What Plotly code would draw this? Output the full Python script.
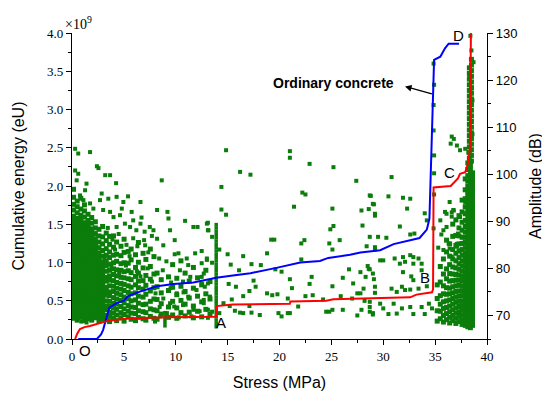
import plotly.graph_objects as go

# ---------------- cumulative energy curves (units of 1e9 eU) ----------------
blue_stress = [0.6, 2.4, 2.8, 3.0, 3.2, 3.34, 3.6, 4.3, 5.0, 5.4, 6.55, 8.2, 9.8, 11.7, 13.3, 13.9,
               15.5, 17.2, 19.7, 22.0, 23.9, 24.7, 26.8, 27.8, 29.7, 31.0, 33.5, 34.2, 34.45, 34.6,
               34.8, 34.9, 35.5, 35.95, 36.3, 37.3]
blue_energy = [0, 0, 0.06, 0.12, 0.22, 0.29, 0.41, 0.47, 0.5, 0.56, 0.62, 0.69, 0.72, 0.74, 0.78, 0.80,
               0.83, 0.86, 0.93, 1.0, 1.02, 1.06, 1.10, 1.13, 1.16, 1.24, 1.32, 1.43, 1.57, 2.36,
               3.2, 3.65, 3.69, 3.8, 3.86, 3.86]

red_stress = [0.3, 0.5, 0.77, 1.2, 1.73, 2.7, 3.5, 5.6, 9.4, 13.9, 13.95, 15.5, 21.0, 21.05, 24.5,
              25.2, 29.7, 32.6, 33.2, 34.7, 34.8, 34.85, 36.5, 36.75, 37.2, 37.4, 37.9, 38.2, 38.35,
              38.4, 38.45]
red_energy = [0, 0.07, 0.13, 0.155, 0.17, 0.21, 0.24, 0.27, 0.285, 0.29, 0.43, 0.45, 0.46, 0.49, 0.5,
              0.52, 0.535, 0.545, 0.58, 0.61, 0.65, 1.98, 2.0, 2.04, 2.1, 2.16, 2.18, 2.31, 2.49,
              3.19, 4.0]

# ---------------- AE amplitude hits (dB): dense columns ----------------
cloud_stress = [0.15, 0.5, 0.85, 1.2, 1.55, 1.9, 2.25, 2.6, 2.95,
                3.3, 3.62, 4.0, 4.3, 4.72, 5.02, 5.42, 5.7, 6.12, 6.4, 6.85, 7.12, 7.55, 7.9,
                8.2, 8.6, 9.3, 9.7, 10.1, 10.5, 10.9, 11.3, 11.7, 12.1, 12.5, 12.9, 13.3,
                35.2, 35.5, 35.8, 36.1, 36.4, 36.7, 37.0, 37.3, 37.6, 37.9, 38.15, 38.4, 38.6,
                38.3, 38.5]
cloud_amp = [
    [69.4, 70.2, 71.1, 71.8, 72.7, 73.4, 74.2, 75.0, 75.9, 76.6, 77.5, 78.2, 79.0, 79.9, 80.6, 81.5,
     82.2, 83.0, 83.9, 84.6, 85.4, 86.3, 87.0, 87.8, 88.7, 89.4, 90.3, 91.1, 92.4, 93.6, 95.1, 96.8],
    [69.0, 69.8, 70.7, 71.5, 72.2, 73.1, 73.8, 74.6, 75.5, 76.2, 77.0, 77.9, 78.6, 79.5, 80.2, 81.0,
     81.9, 82.6, 83.4, 84.3, 85.0, 85.8, 86.7, 87.4, 88.2, 89.1, 89.8, 90.6, 91.8, 93.1, 94.3],
    [69.6, 70.4, 71.2, 72.0, 72.9, 73.6, 74.4, 75.2, 76.0, 76.9, 77.6, 78.4, 79.2, 80.0, 80.8, 81.6,
     82.4, 83.2, 84.0, 84.9, 85.6, 86.4, 87.2, 88.1, 88.8, 89.6, 90.5, 91.3, 92.6, 94.9],
    [68.9, 69.7, 70.5, 71.4, 72.1, 72.9, 73.8, 74.5, 75.3, 76.2, 76.9, 77.7, 78.6, 79.3, 80.1, 81.0,
     81.7, 82.5, 83.4, 84.1, 84.9, 85.8, 86.5, 87.3, 88.2, 88.9, 89.7, 90.9, 92.2, 93.5],
    [69.3, 70.1, 70.9, 71.7, 72.6, 73.3, 74.1, 75.0, 75.7, 76.5, 77.4, 78.1, 78.9, 79.8, 80.5, 81.3,
     82.2, 82.9, 83.7, 84.6, 85.3, 86.1, 87.0, 87.7, 88.5, 89.4, 90.2, 91.5],
    [69.0, 69.9, 70.6, 71.4, 72.3, 73.0, 73.8, 74.7, 75.4, 76.2, 77.1, 77.8, 78.6, 79.5, 80.2, 81.0,
     81.9, 82.6, 83.4, 84.3, 85.0, 85.8, 86.7, 87.5, 88.4, 89.6, 90.8],
    [69.5, 70.3, 71.1, 71.9, 72.8, 73.5, 74.3, 75.2, 75.9, 76.7, 77.6, 78.3, 79.1, 80.0, 80.7, 81.5,
     82.4, 83.1, 83.9, 84.8, 85.5, 86.3, 87.4, 88.6, 89.9],
    [68.8, 69.7, 70.5, 71.3, 72.2, 72.9, 73.7, 74.6, 75.3, 76.1, 77.0, 77.7, 78.5, 79.4, 80.1, 80.9,
     81.8, 82.5, 83.3, 84.4, 85.6, 86.9, 88.3],
    [69.2, 70.0, 70.8, 71.6, 72.5, 73.2, 74.0, 74.9, 75.6, 76.4, 77.3, 78.0, 78.8, 79.7, 80.5, 81.4,
     82.6, 83.8, 85.2, 86.7, 88.9],
    [69.1, 70.0, 71.2, 72.0, 73.1, 74.3, 75.2, 76.0, 77.3, 78.1, 79.4, 80.6, 81.5, 82.8, 84.2, 85.9, 87.5],
    [68.7, 69.8, 70.7, 71.9, 73.0, 74.2, 75.0, 76.3, 77.5, 78.4, 79.6, 80.9, 82.3, 83.5, 85.1, 86.8],
    [69.4, 70.5, 71.6, 72.6, 73.8, 75.1, 76.2, 77.4, 78.7, 79.9, 81.2, 82.8, 84.5, 86.9],
    [68.9, 70.1, 71.3, 72.4, 73.5, 74.7, 75.8, 77.0, 78.4, 79.7, 81.5, 83.0, 85.6],
    [69.5, 70.6, 71.9, 73.2, 74.4, 75.6, 76.8, 78.1, 79.6, 81.0, 82.7, 84.7],
    [68.8, 70.2, 71.4, 72.7, 73.9, 75.3, 76.6, 78.0, 79.3, 81.2, 83.4, 86.2],
    [69.7, 70.9, 72.1, 73.6, 74.9, 76.3, 77.8, 79.5, 81.1, 83.6],
    [69.2, 70.5, 71.8, 73.1, 74.6, 76.0, 77.6, 79.1, 81.8, 84.1],
    [68.9, 70.4, 71.7, 73.3, 74.8, 76.5, 78.3, 80.2, 82.9],
    [69.6, 71.0, 72.6, 74.1, 75.9, 77.3, 79.0, 81.3, 85.5],
    [69.3, 70.8, 72.3, 73.9, 75.6, 77.4, 80.1, 83.2],
    [69.0, 70.6, 72.4, 74.5, 76.4, 78.5, 81.9],
    [69.8, 71.4, 73.0, 75.2, 77.7, 80.4, 84.1],
    [69.4, 71.2, 73.5, 75.9, 78.8, 82.5],
    [69.2, 71.0, 73.4, 76.1, 79.0],
    [70.3, 72.5, 74.8, 77.6],
    [69.6, 71.8, 75.3, 78.2],
    [70.1, 73.0, 76.0, 80.8],
    [69.4, 71.6, 74.4, 77.9],
    [70.6, 73.2, 76.2, 81.6],
    [69.9, 72.4, 75.1, 79.0],
    [70.7, 73.7, 77.3],
    [69.5, 72.0, 75.8, 80.2],
    [70.9, 74.1, 78.0],
    [69.7, 72.9, 76.5],
    [71.3, 74.6, 79.6],
    [70.2, 73.5, 77.2],
    [68.8, 71.0, 73.6, 76.5],
    [69.3, 70.9, 72.4, 74.2, 77.1, 80.4],
    [68.6, 70.0, 71.5, 72.9, 74.6, 76.3, 78.8, 82.0],
    [69.1, 70.4, 71.7, 73.1, 74.5, 75.9, 77.8, 79.9, 83.5, 86.0],
    [68.4, 69.6, 70.8, 72.0, 73.3, 74.6, 75.8, 77.3, 78.9, 80.8, 82.6, 85.2],
    [68.9, 70.0, 71.2, 72.4, 73.6, 74.8, 76.1, 77.4, 78.8, 80.3, 82.0, 84.0, 86.8, 89.4],
    [68.3, 69.4, 70.5, 71.6, 72.8, 73.9, 75.1, 76.3, 77.5, 78.7, 80.1, 81.6, 83.2, 84.9, 87.0, 90.3],
    [68.7, 69.8, 70.8, 71.9, 73.0, 74.1, 75.2, 76.4, 77.5, 78.6, 79.8, 81.0, 82.3, 83.7, 85.2, 86.9,
     88.6, 91.2],
    [68.1, 69.1, 70.1, 71.1, 72.1, 73.1, 74.2, 75.2, 76.2, 77.3, 78.3, 79.4, 80.5, 81.6, 82.8, 84.0,
     85.3, 86.6, 88.1, 89.8, 92.0, 94.5],
    [67.9, 68.8, 69.8, 70.7, 71.7, 72.6, 73.6, 74.5, 75.5, 76.4, 77.4, 78.3, 79.3, 80.3, 81.3, 82.3,
     83.3, 84.4, 85.5, 86.6, 87.7, 88.9, 90.2, 91.6, 93.1, 94.8, 96.7, 99.0],
    [67.6, 68.5, 69.4, 70.3, 71.2, 72.1, 73.0, 73.9, 74.8, 75.7, 76.6, 77.5, 78.4, 79.3, 80.2, 81.1,
     82.0, 82.9, 83.8, 84.7, 85.6, 86.5, 87.4, 88.3, 89.2, 90.1, 91.0, 91.9, 92.8, 93.7, 94.6, 95.5,
     96.4, 97.4, 98.5, 99.7, 101.0, 102.4],
    [67.4, 68.2, 69.0, 69.8, 70.6, 71.4, 72.2, 73.0, 73.8, 74.6, 75.4, 76.2, 77.0, 77.8, 78.6, 79.4,
     80.2, 81.0, 81.8, 82.6, 83.4, 84.2, 85.0, 85.8, 86.6, 87.4, 88.2, 89.0, 89.8, 90.6, 91.4, 92.2,
     93.0, 93.8, 94.6, 95.4, 96.2, 97.0, 97.8, 98.6, 99.4, 100.2, 101.0, 101.8, 102.6],
    [67.9, 68.8, 69.7, 70.6, 71.5, 72.4, 73.3, 74.2, 75.1, 76.0, 76.9, 77.8, 78.7, 79.6, 80.5, 81.4,
     82.3, 83.2, 84.1, 85.0, 85.9, 86.8, 87.7, 88.6, 89.5, 90.4, 91.3, 92.2, 93.1, 94.0, 94.9, 95.8,
     96.7, 97.6, 98.5, 99.4, 100.3],
    [103.4, 104.6, 105.8, 107.0, 108.2, 109.4, 110.6, 111.8, 113.0, 114.2, 115.4, 116.6, 117.8,
     119.0, 120.2, 121.4, 122.6],
    [102.8, 104.0, 105.2, 106.4, 107.6, 108.8, 110.0, 111.2, 112.4, 113.6, 114.8, 116.0, 117.2,
     118.4, 119.6, 120.8, 122.0, 123.2, 124.4],
]

# narrow vertical streaks of hits (point A and near 9 MPa)
streak_stress = [13.9, 8.96]
streak_amp = [
    [67.6, 68.3, 69.0, 69.7, 70.4, 71.1, 71.8, 72.5, 73.2, 73.9, 74.6, 75.3, 76.0, 76.7, 77.4, 78.1,
     78.8, 79.5, 80.2, 80.9, 81.6, 82.3, 83.0, 83.7, 84.4, 85.1, 85.8, 86.5, 87.2, 87.9, 88.6, 89.3],
    [67.8, 68.5, 69.2, 69.9, 70.6],
]

# ---------------- AE amplitude hits: isolated points (stress MPa, amplitude dB) ----------------
hits = [
    (0.3, 105.4), (0.6, 104.4), (1.74, 104.7), (0.3, 100.8), (0.6, 100.1), (0.45, 98.7), (1.4, 98.0),
    (2.4, 101.7), (2.55, 101.3), (3.2, 99.8), (3.67, 99.8), (4.25, 98.1), (1.26, 96.6), (0.77, 95.5),
    (2.86, 95.9), (3.5, 94.8), (2.7, 94.5), (4.3, 95.2), (4.95, 94.1), (5.4, 95.3), (6.6, 94.1),
    (4.8, 92.7), (5.75, 92.0), (5.9, 90.2), (6.7, 90.8), (8.2, 92.4), (9.2, 92.0), (9.3, 90.6),
    (10.9, 90.1), (11.7, 88.8), (12.1, 88.8), (7.5, 88.8), (6.6, 89.5), (7.85, 88.1), (9.45, 88.1),
    (9.9, 86.0), (8.2, 86.3), (8.8, 84.9), (7.05, 84.9), (10.26, 83.2), (11.2, 80.7), (12.5, 81.1),
    (12.7, 78.9), (12.5, 76.8), (8.65, 98.7), (1.1, 94.5), (1.74, 93.8), (2.06, 92.7), (3.0, 92.4),
    (3.67, 92.0), (4.0, 90.9), (4.63, 91.3), (5.1, 89.5), (5.6, 88.8), (6.2, 88.1), (4.3, 88.8),
    (7.0, 87.8), (13.0, 89.5), (13.15, 88.1), (11.06, 82.1), (11.87, 83.2), (13.0, 81.8), (11.4, 78.2),
    (10.4, 79.6), (10.7, 77.2), (12.0, 75.4), (10.1, 74.7), (11.2, 74.0), (9.45, 72.6), (10.7, 72.2),
    (11.7, 71.2), (12.7, 73.3), (8.5, 69.8), (8.0, 68.7), (1.4, 68.5), (0.9, 68.7),
    (3.45, 88.6), (3.9, 86.1), (4.5, 87.3), (5.25, 85.0), (5.9, 86.4), (6.3, 84.7), (6.95, 86.0),
    (7.35, 83.4), (7.7, 86.9), (8.4, 82.1), (8.75, 79.6), (9.1, 81.5), (9.55, 77.0), (9.9, 83.0),
    (3.15, 82.0), (3.8, 80.3), (4.15, 84.0), (4.55, 79.0), (5.2, 80.6), (5.55, 82.6), (6.25, 79.4),
    (6.6, 78.3), (7.3, 80.0), (7.7, 77.2), (8.05, 74.7), (8.45, 71.8), (8.8, 73.6), (9.15, 70.5),
    (9.5, 75.8), (9.85, 71.9), (10.3, 69.6), (10.75, 74.9), (11.5, 69.8), (12.3, 70.9), (13.1, 69.5),
    (14.85, 105.1), (21.0, 104.9), (21.0, 103.5), (22.9, 102.2), (25.2, 101.5), (16.2, 100.5),
    (17.2, 99.9), (27.4, 98.6), (14.4, 97.3), (22.2, 96.1), (22.5, 95.7), (28.8, 95.4), (21.4, 93.1),
    (14.4, 92.5), (14.85, 91.4), (25.1, 92.7), (29.1, 93.6), (28.6, 92.6), (29.2, 91.2), (28.0, 89.1),
    (25.2, 89.0), (24.9, 88.3), (13.1, 89.7), (13.1, 88.1), (13.5, 86.7), (29.5, 86.7), (19.2, 86.1),
    (19.5, 86.1), (22.4, 86.0), (22.1, 85.3), (25.8, 86.0), (24.8, 85.3), (25.1, 84.0), (28.4, 84.7),
    (29.2, 84.0), (14.2, 84.0), (15.0, 83.0), (16.5, 82.6), (18.8, 83.2), (22.1, 81.9), (15.3, 80.8),
    (17.3, 80.9), (18.2, 80.7), (16.1, 79.6), (19.6, 79.8), (20.2, 79.3), (26.7, 79.8), (28.5, 80.5),
    (28.7, 79.8), (23.1, 78.2), (26.1, 78.0), (21.0, 77.7), (17.5, 77.4), (15.1, 76.7), (15.8, 76.1),
    (17.7, 76.1), (25.1, 76.2), (27.1, 76.8), (28.3, 78.2), (29.1, 77.7), (21.2, 75.8), (22.9, 76.7),
    (18.8, 74.7), (19.3, 74.3), (19.8, 74.5), (17.1, 75.2), (16.5, 74.1), (15.4, 73.4), (20.8, 73.6),
    (22.5, 74.1), (23.2, 74.3), (24.2, 73.4), (25.9, 74.1), (27.0, 73.6), (27.5, 74.7), (27.8, 74.7),
    (28.2, 73.1), (29.2, 74.8), (28.7, 72.9), (15.2, 72.0), (17.1, 72.0), (16.2, 70.6), (16.5, 70.5),
    (17.3, 70.6), (18.1, 70.1), (19.9, 70.5), (20.2, 69.8), (20.8, 70.5), (21.0, 70.5), (21.8, 71.9),
    (24.5, 70.8), (24.8, 70.8), (25.1, 71.2), (26.1, 71.2), (27.5, 70.0), (27.9, 71.2), (28.7, 70.8),
    (29.0, 70.2), (15.7, 71.0), (12.5, 83.7), (13.0, 82.1), (13.5, 81.2), (12.5, 78.2), (12.8, 76.1),
    (13.1, 76.8), (13.3, 74.0), (12.7, 72.6), (13.1, 71.2), (13.5, 70.8), (14.2, 70.5), (14.6, 72.6),
    (30.8, 99.4), (28.7, 95.5), (30.5, 95.3), (31.9, 95.0), (32.6, 94.8), (29.0, 93.7), (27.9, 92.3),
    (29.2, 91.6), (32.3, 92.7), (36.4, 94.1), (36.8, 92.3), (36.6, 91.9), (36.1, 91.6), (35.5, 90.2),
    (37.9, 94.1), (37.4, 90.9), (31.6, 88.9), (30.3, 86.5), (28.7, 86.7), (32.6, 87.2), (33.0, 87.4),
    (35.6, 87.2), (35.3, 84.4), (36.4, 84.2), (37.1, 85.2), (37.4, 83.8), (29.2, 84.5), (29.7, 81.7),
    (30.0, 81.7), (31.1, 82.1), (31.9, 82.4), (32.6, 82.8), (32.9, 82.4), (33.4, 82.1), (31.6, 81.0),
    (32.1, 81.4), (32.9, 81.0), (33.7, 81.0), (28.6, 79.9), (29.0, 78.9), (31.9, 79.2), (32.7, 78.3),
    (33.7, 79.6), (32.9, 77.5), (27.8, 79.2), (28.1, 75.7), (29.2, 76.1), (30.8, 75.7), (31.8, 76.1),
    (32.1, 75.4), (32.6, 75.5), (33.4, 75.7), (34.2, 76.2), (31.3, 75.0), (28.7, 71.8), (29.7, 72.5),
    (30.0, 71.5), (31.0, 72.5), (31.8, 71.5), (32.6, 71.8), (33.7, 71.8), (34.4, 72.5), (34.7, 71.5),
    (29.0, 70.5), (30.5, 70.3), (31.3, 70.4), (32.9, 70.3), (34.0, 70.3),
    (36.6, 108.0), (36.8, 107.5), (36.5, 106.5), (37.1, 106.1), (37.9, 105.4), (37.4, 105.1),
    (35.95, 92.0), (36.75, 92.4), (36.6, 91.0), (36.1, 88.8), (35.8, 88.1), (37.2, 87.4), (36.3, 85.3),
    (37.1, 84.6), (35.8, 83.9), (36.6, 82.5), (34.0, 91.7), (34.2, 90.2),
    (34.85, 88.5), (34.9, 95.7), (34.9, 100.2), (34.9, 104.0), (34.85, 109.3), (34.85, 114.7),
    (34.9, 119.0), (34.85, 123.5),
    (38.4, 129.4), (38.5, 126.3), (38.7, 123.8), (38.6, 115.7), (38.3, 120.8), (38.5, 118.2),
    (38.3, 111.8), (38.6, 108.5), (38.2, 104.6),
]

x_ticks = [0, 5, 10, 15, 20, 25, 30, 35, 40]
energy_ticks = [0.0, 0.5, 1.0, 1.5, 2.0, 2.5, 3.0, 3.5, 4.0]
amp_ticks = [70, 80, 90, 100, 110, 120, 130]

# ---------------- build ----------------
cx, cy = [], []
for s, col in zip(cloud_stress, cloud_amp):
    for a in col:
        cx.append(s)
        cy.append(a)
kx, ky = [], []
for s, col in zip(streak_stress, streak_amp):
    for a in col:
        kx.append(s)
        ky.append(a)
hx = [h[0] for h in hits]
hy = [h[1] for h in hits]

GREEN = "#0b7d0b"
serif = "Liberation Serif, Times New Roman, serif"
sans = "Liberation Sans, Arial, sans-serif"

fig = go.Figure()
fig.add_trace(go.Scatter(x=cx, y=cy, mode="markers", yaxis="y",
                         marker=dict(symbol="square", size=5, color=GREEN, line=dict(width=0)),
                         showlegend=False, hoverinfo="skip"))
fig.add_trace(go.Scatter(x=kx, y=ky, mode="markers", yaxis="y",
                         marker=dict(symbol="square", size=3.5, color=GREEN, line=dict(width=0)),
                         showlegend=False, hoverinfo="skip"))
fig.add_trace(go.Scatter(x=hx, y=hy, mode="markers", yaxis="y",
                         marker=dict(symbol="square", size=4, color=GREEN, line=dict(width=0)),
                         showlegend=False, hoverinfo="skip"))
fig.add_trace(go.Scatter(x=blue_stress, y=blue_energy, mode="lines", yaxis="y2",
                         line=dict(color="#0000ff", width=2), showlegend=False))
fig.add_trace(go.Scatter(x=red_stress, y=red_energy, mode="lines", yaxis="y2",
                         line=dict(color="#ff0000", width=2), showlegend=False))

axis_common = dict(showgrid=False, zeroline=False, showline=True, linecolor="black", linewidth=1.2,
                   ticks="outside", ticklen=5, tickwidth=1.2, tickcolor="black", automargin=False)

fig.update_layout(
    width=550, height=395,
    margin=dict(l=64, r=71, t=25, b=64),
    paper_bgcolor="white", plot_bgcolor="white",
    xaxis=dict(range=[0, 40], tickvals=x_ticks, ticktext=[str(v) for v in x_ticks],
               tickfont=dict(family=serif, size=13, color="black"),
               title=dict(text="Stress (MPa)", font=dict(family=sans, size=16, color="black"), standoff=14),
               minor=dict(dtick=2.5, ticks="outside", ticklen=3, tickcolor="black"),
               **axis_common),
    yaxis=dict(range=[65, 130], side="right", tickvals=amp_ticks,
               tickfont=dict(family=sans, size=13, color="black"),
               title=dict(text="Amplitude (dB)", font=dict(family=sans, size=16, color="black"), standoff=13),
               minor=dict(dtick=5, ticks="outside", ticklen=3, tickcolor="black"),
               **axis_common),
    yaxis2=dict(range=[0, 4], side="left", overlaying="y", tickvals=energy_ticks,
                ticktext=["%.1f" % v for v in energy_ticks],
                tickfont=dict(family=serif, size=13, color="black"),
                title=dict(text="Cumulative energy (eU)", font=dict(family=sans, size=16, color="black"), standoff=18),
                minor=dict(dtick=0.25, ticks="outside", ticklen=3, tickcolor="black"),
                **axis_common),
)

lbl = dict(family=sans, size=15, color="black")
for t, x, y in [("A", 14.4, 0.21), ("B", 34.0, 0.8), ("C", 36.4, 2.18), ("D", 37.3, 3.97)]:
    fig.add_annotation(x=x, y=y, xref="x", yref="y2", text=t, showarrow=False, font=lbl)
# origin label sits just below the axis, outside the data range
fig.add_annotation(x=0.031, y=-0.036, xref="paper", yref="paper", xanchor="center", yanchor="middle",
                   text="O", showarrow=False, font=lbl)

fig.add_annotation(x=25.25, y=3.35, xref="x", yref="y2", text="<b>Ordinary concrete</b>", showarrow=False,
                   font=dict(family=sans, size=14, color="black"))
fig.add_annotation(x=32.1, y=3.30, xref="x", yref="y2", ax=34.83, ay=3.20, axref="x", ayref="y2",
                   text="", showarrow=True, arrowhead=2, arrowsize=1, arrowwidth=1.3, arrowcolor="black")
fig.add_annotation(x=-0.022, y=1.032, xref="paper", yref="paper", xanchor="left", yanchor="middle",
                   text="×10<sup>9</sup>", showarrow=False, font=dict(family=serif, size=14, color="black"))

fig.write_html("out.html")
